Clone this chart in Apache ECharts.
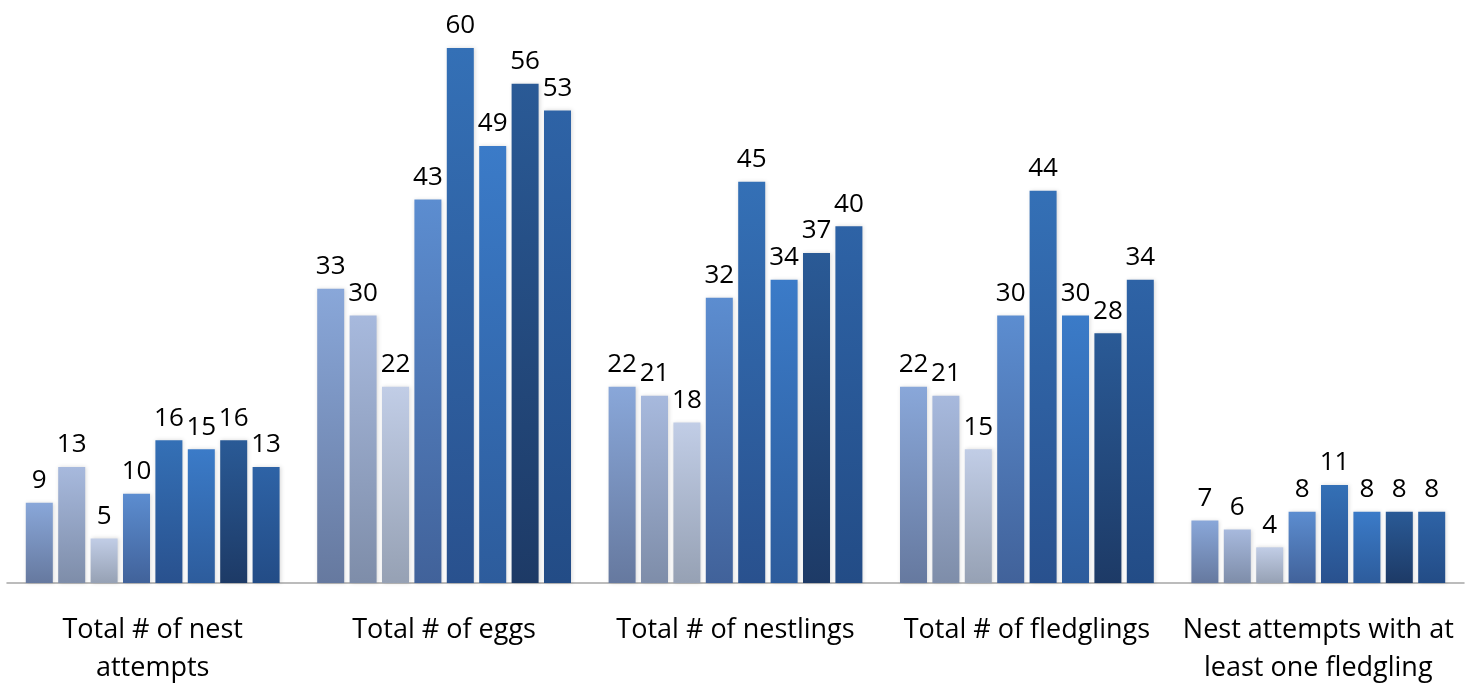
<!DOCTYPE html>
<html>
<head>
<meta charset="utf-8">
<script src="https://cdn.jsdelivr.net/npm/echarts@6/dist/echarts.min.js"></script>
<style>html,body{margin:0;padding:0;background:#fff}#c{width:1481px;height:687px}</style>
</head>
<body>
<div id="c"></div>
<script>
const categories = ["Total # of nest\nattempts", "Total # of eggs", "Total # of nestlings", "Total # of fledglings", "Nest attempts with at\nleast one fledgling"];
const s1 = [9, 33, 22, 22, 7];
const s2 = [13, 30, 21, 21, 6];
const s3 = [5, 22, 18, 15, 4];
const s4 = [10, 43, 32, 30, 8];
const s5 = [16, 60, 45, 44, 11];
const s6 = [15, 49, 34, 30, 8];
const s7 = [16, 56, 37, 28, 8];
const s8 = [13, 53, 40, 34, 8];
const seriesData = [s1, s2, s3, s4, s5, s6, s7, s8];
const gradients = [
  ['#89a7d9', '#66799f'],
  ['#a7b9dd', '#7e8da9'],
  ['#c1cde6', '#96a1b4'],
  ['#5c8dd0', '#41629a'],
  ['#3470b6', '#29518e'],
  ['#3b7bc8', '#2d5c9c'],
  ['#2a5a96', '#1d3a66'],
  ['#2e63a6', '#234c86']
];
const chart = echarts.init(document.getElementById('c'));
chart.setOption({
  animation: false,
  grid: {left: 7, right: 17, top: 48, bottom: 103},
  xAxis: {
    type: 'category', data: categories,
    axisLine: {lineStyle: {color: '#a6a6a6', width: 1.5}},
    axisTick: {show: false},
    axisLabel: {fontFamily: 'Open Sans', fontSize: 27, color: '#000', margin: 28, lineHeight: 38, interval: 0}
  },
  yAxis: {type: 'value', min: 0, max: 60, show: false, splitLine: {show: false}},
  series: seriesData.map((d, i) => ({
    type: 'bar', name: 'Series ' + (i + 1), data: d,
    barWidth: 27, barGap: '20%',
    itemStyle: {
      color: new echarts.graphic.LinearGradient(0, 0, 0, 1, [
        {offset: 0, color: gradients[i][0]}, {offset: 1, color: gradients[i][1]}
      ]),
      shadowBlur: 4, shadowColor: 'rgba(0,0,0,0.15)', shadowOffsetX: 1
    },
    label: {show: true, position: 'top', distance: 9, fontFamily: 'Open Sans', fontSize: 26, color: '#000'}
  }))
});
</script>
</body>
</html>
